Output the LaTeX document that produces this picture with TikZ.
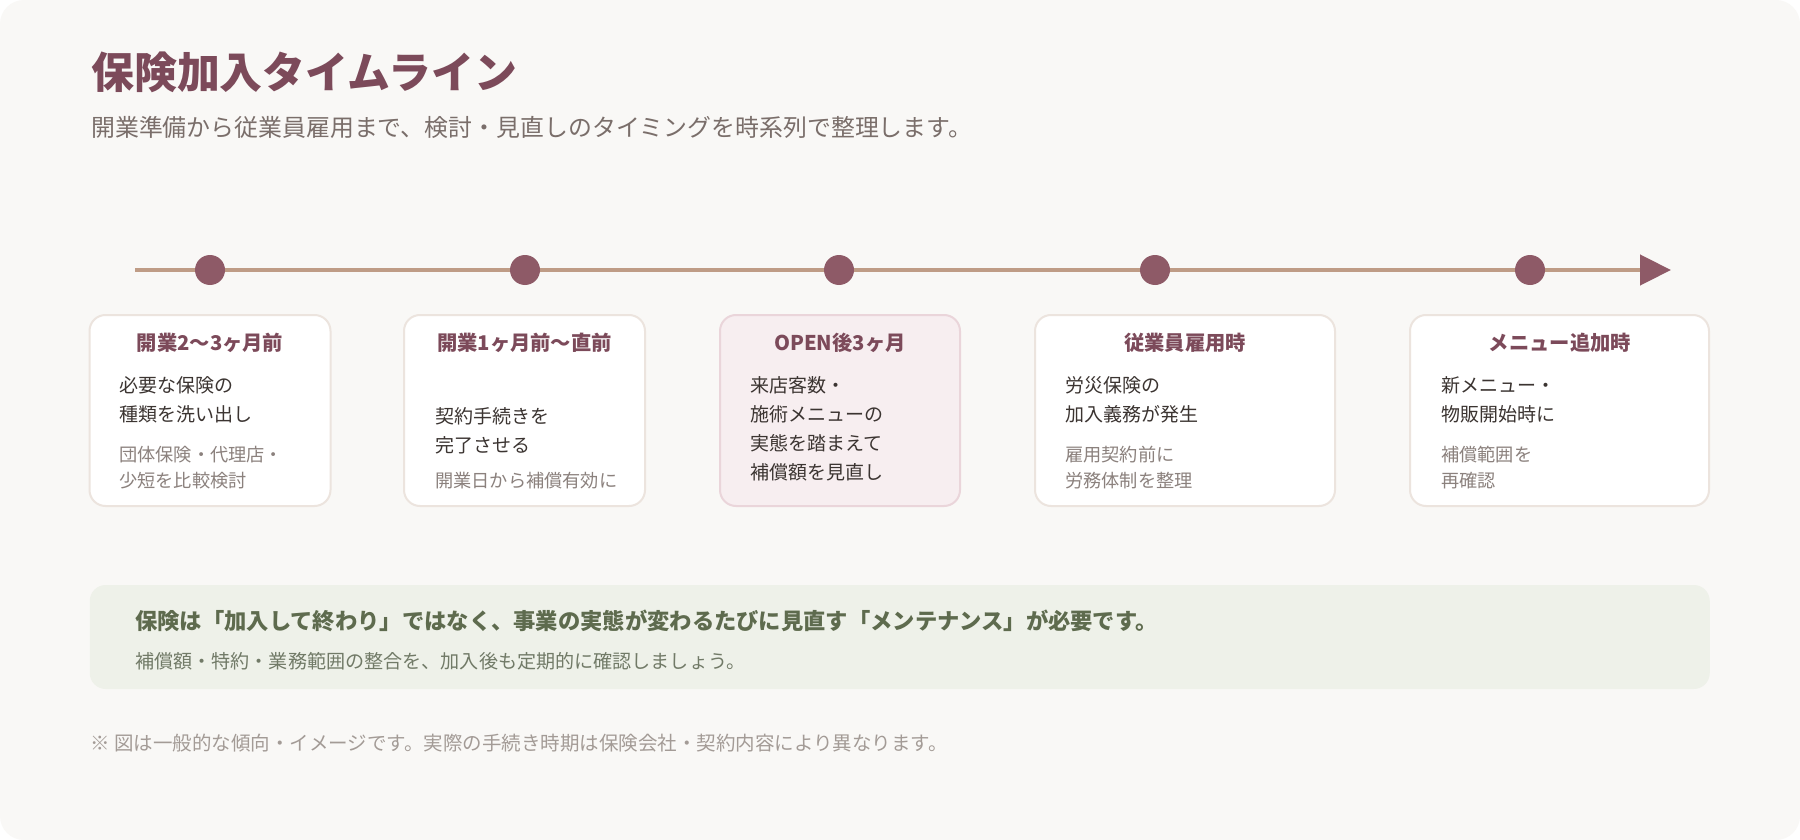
\documentclass[tikz,border=0pt]{standalone}
\usepackage{fontspec}
\setmainfont{Noto Sans CJK JP}
\usetikzlibrary{arrows.meta}
\definecolor{bgc}{HTML}{F9F8F6}
\definecolor{linec}{HTML}{BF9C86}
\definecolor{dotc}{HTML}{8E5A67}
\definecolor{titlec}{HTML}{7C4A5A}
\definecolor{subc}{HTML}{7A6E6A}
\definecolor{bodyc}{HTML}{3B3431}
\definecolor{notec}{HTML}{8B817D}
\definecolor{boxb}{HTML}{ECE4DE}
\definecolor{hlfill}{HTML}{F7EEF0}
\definecolor{hlb}{HTML}{EAD5DA}
\definecolor{callf}{HTML}{EEF1E9}
\definecolor{callt}{HTML}{5E6B4E}
\definecolor{calls}{HTML}{717A67}
\definecolor{footc}{HTML}{A39B96}
\newcommand\myfs[1]{\fontsize{#1}{#1}\selectfont}
\tikzset{
  txt/.style={inner sep=0pt, anchor=west},
  bodytxt/.style={txt, text=bodyc, font=\myfs{19}},
  notetxt/.style={txt, text=notec, font=\myfs{18.2}},
  boxtitle/.style={inner sep=0pt, anchor=center, text=titlec, font=\bfseries\myfs{20.3}},
  card/.style={draw=boxb, line width=2pt, fill=white, rounded corners=16pt, minimum height=191pt, inner sep=0pt},
  cardhl/.style={card, draw=hlb, fill=hlfill},
  tdot/.style={circle, fill=dotc, minimum size=30pt, inner sep=0pt},
}
\begin{document}
\begin{tikzpicture}[x=1pt,y=-1pt]
\useasboundingbox (0,0) rectangle (1800,840);
\fill[white] (0,0) rectangle (1800,840);
\fill[bgc, rounded corners=24pt] (0,0) rectangle (1800,840);

% heading
\node[txt, text=titlec, font=\bfseries\myfs{42.9}] (title) at (91,72) {保険加入タイムライン};
\node[txt, text=subc, font=\myfs{23.9}] (sub) at (91,127) {開業準備から従業員雇用まで、検討・見直しのタイミングを時系列で整理します。};

% timeline
\coordinate (tls) at (135,270);
\coordinate (tle) at (1671,270);
\draw[linec, line width=4.5pt, -{Triangle[length=31pt,width=30pt,color=dotc,fill=dotc]}] (tls) -- (tle);
\node[tdot] (d1) at (210,270) {};
\node[tdot] (d2) at (525,270) {};
\node[tdot] (d3) at (839,270) {};
\node[tdot] (d4) at (1155,270) {};
\node[tdot] (d5) at (1530,270) {};

% cards
\node[card, minimum width=241pt] (b1) at (210,410.5) {};
\node[card, minimum width=241pt] (b2) at (524.5,410.5) {};
\node[cardhl, minimum width=240pt] (b3) at (840,410.5) {};
\node[card, minimum width=300pt] (b4) at (1185,410.5) {};
\node[card, minimum width=299pt] (b5) at (1559.5,410.5) {};

% card 1
\node[boxtitle] (t1) at (210,343) {開業2〜3ヶ月前};
\node[bodytxt] (p1a) at (119,385) {必要な保険の};
\node[bodytxt] (p1b) at (119,414) {種類を洗い出し};
\node[notetxt] (n1a) at (119,455) {団体保険・代理店・};
\node[notetxt] (n1b) at (119,481) {少短を比較検討};

% card 2
\node[boxtitle] (t2) at (524.5,343) {開業1ヶ月前〜直前};
\node[bodytxt] (p2a) at (435,416) {契約手続きを};
\node[bodytxt] (p2b) at (435,445) {完了させる};
\node[notetxt] (n2a) at (435,481) {開業日から補償有効に};

% card 3
\node[boxtitle] (t3) at (840,343) {OPEN後3ヶ月};
\node[bodytxt] (p3a) at (750,385) {来店客数・};
\node[bodytxt] (p3b) at (750,414) {施術メニューの};
\node[bodytxt] (p3c) at (750,443) {実態を踏まえて};
\node[bodytxt] (p3d) at (750,472) {補償額を見直し};

% card 4
\node[boxtitle] (t4) at (1185,343) {従業員雇用時};
\node[bodytxt] (p4a) at (1065,385) {労災保険の};
\node[bodytxt] (p4b) at (1065,414) {加入義務が発生};
\node[notetxt] (n4a) at (1065,455) {雇用契約前に};
\node[notetxt] (n4b) at (1065,481) {労務体制を整理};

% card 5
\node[boxtitle] (t5) at (1560,343) {メニュー追加時};
\node[bodytxt] (p5a) at (1441,385) {新メニュー・};
\node[bodytxt] (p5b) at (1441,414) {物販開始時に};
\node[notetxt] (n5a) at (1441,455) {補償範囲を};
\node[notetxt] (n5b) at (1441,481) {再確認};

% callout
\node[fill=callf, rounded corners=16pt, minimum width=1620pt, minimum height=104pt, inner sep=0pt] (call) at (899.75,637) {};
\node[txt, text=callt, font=\bfseries\myfs{22.3}] (c1) at (135,621) {保険は「加入して終わり」ではなく、事業の実態が変わるたびに見直す「メンテナンス」が必要です。};
\node[txt, text=calls, font=\myfs{19.1}] (c2) at (135,661) {補償額・特約・業務範囲の整合を、加入後も定期的に確認しましょう。};

% footnote
\node[txt, text=footc, font=\myfs{19.5}] (foot) at (90,743) {※ 図は一般的な傾向・イメージです。実際の手続き時期は保険会社・契約内容により異なります。};
\end{tikzpicture}
\end{document}
